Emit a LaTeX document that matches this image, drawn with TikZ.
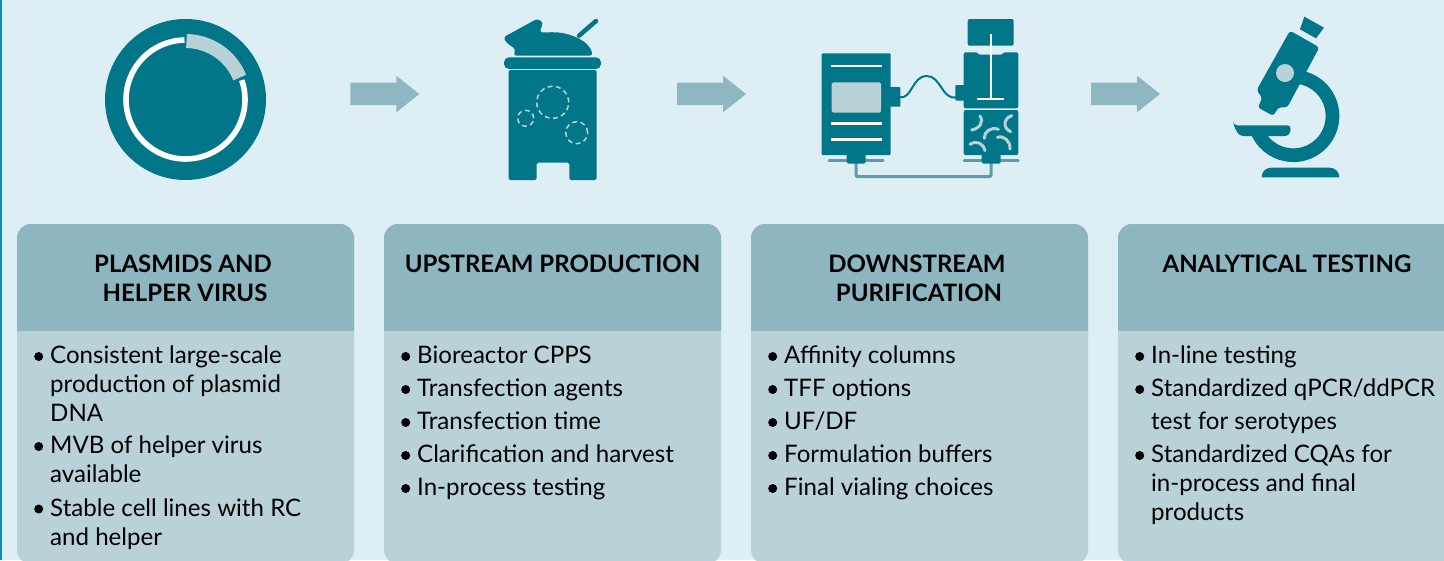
\documentclass[tikz,border=0pt]{standalone}
\usepackage{fontspec}
\setmainfont{Lato}
\definecolor{bgc}{HTML}{DDEEF5}
\definecolor{teal}{HTML}{017689}
\definecolor{head}{HTML}{8DB6C0}
\definecolor{bodyc}{HTML}{B8D2D8}
\definecolor{stripe}{HTML}{0090B8}
\definecolor{pipe}{HTML}{5C9BA9}
\definecolor{arrowc}{HTML}{8FB7C1}
\tikzset{
  cardtitle/.style={font=\fontsize{24}{29}\selectfont\bfseries,align=center,text=black,inner sep=0pt},
  itemtext/.style={font=\fontsize{24.1}{29}\selectfont,align=left,anchor=north west,inner sep=0pt,text=black,yshift=-1pt},
  bul/.style={circle,fill=black,inner sep=0pt,minimum size=9pt},
  whiteline/.style={draw=white,line width=2.4pt},
  curl/.style={draw=bodyc,line width=3pt,line cap=round},
  bubble/.style={draw=bodyc,line width=1.5pt,dash pattern=on 5pt off 3.4pt},
  flow/.style={fill=arrowc,draw=none}
}
\newcommand{\card}[2]{%
  \fill[bodyc,rounded corners=14pt] (#1,224) rectangle (#1+#2,564);
  \begin{scope}
    \clip (#1,224) rectangle (#1+#2,330);
    \fill[head,rounded corners=14pt] (#1,224) rectangle (#1+#2,360);
  \end{scope}}
\newcommand{\flowarrow}[1]{%
  \fill[flow] (#1,82.5) -- (#1+46,82.5) -- (#1+46,75.7) -- (#1+69,94) -- (#1+46,112.3) -- (#1+46,105) -- (#1,105) -- cycle;}
\newcommand{\mz}[2]{1210+#1/3,#2/3}
\newcommand{\rz}[2]{480+#1/3,#2/3}
\newcommand{\pz}[2]{800+#1/3,#2/3}
\begin{document}
\begin{tikzpicture}[x=1pt,y=-1pt]
\useasboundingbox (0,0) rectangle (1444,560);
\clip (0,0) rectangle (1444,560);
\fill[bgc] (0,0) rectangle (1444,560);
\fill[stripe] (0,0) rectangle (2,560);

% plasmid
\fill[teal] (185.5,99.5) circle[radius=80.5pt];
\draw[white,line width=5.6pt] (185.5,99.5) ++(91:59.5pt) arc[start angle=91,end angle=379,radius=59.5pt];
\draw[bodyc,line width=14pt] (185.5,99.5) ++(89:58.5pt) arc[start angle=89,end angle=22,radius=58.5pt];

\flowarrow{350.3}
\flowarrow{677}
\flowarrow{1091}

% bioreactor
\fill[teal,rounded corners=1.5pt] (508.7,70) -- (596.7,70) -- (596.7,180) -- (569.3,180) -- (569.3,162.7) -- (536.7,162.7) -- (536.7,180) -- (508.7,180) -- cycle;
\fill[teal,rounded corners=5pt] (504,57.3) rectangle (601,69);
\fill[teal,rounded corners=3pt] (\rz{70}{112}) -- (\rz{172}{56}) -- (\rz{190}{68}) -- (\rz{178}{97}) -- (\rz{205}{97}) .. controls (\rz{270}{95}) and (\rz{330}{125}) .. (\rz{338}{167}) -- (\rz{100}{167}) -- (\rz{107}{148}) -- (\rz{78}{127}) -- cycle;
\draw[teal,line width=4.5pt,line cap=round] (579,35.7) -- (596,21);
\draw[bubble] (552.7,102.3) circle[radius=16pt];
\draw[bubble] (525.7,118.3) circle[radius=8pt];
\draw[bubble] (576.7,132.7) circle[radius=11pt];

% purification
\fill[teal,rounded corners=1pt] (821.7,53.3) rectangle (890.7,155);
\draw[whiteline] (831,65.7) -- (881.7,65.7);
\draw[whiteline] (831,123.3) -- (881.7,123.3);
\draw[whiteline] (831,139.3) -- (881.7,139.3);
\fill[bodyc,rounded corners=1.5pt] (831.7,82.3) rectangle (881,112.7);
\fill[teal,rounded corners=1pt] (889,87) rectangle (900.3,106.7);
\fill[teal,rounded corners=1pt] (955.3,85) rectangle (965,100.7);
\draw[teal,line width=2pt] (899,97.3) .. controls (912,100) and (912,76) .. (926.7,76) .. controls (941,76) and (942,100) .. (956,97.3);
\fill[teal,rounded corners=2pt] (963.7,52.3) -- (977.7,52.3) -- (977.7,54.5) -- (1003.3,54.5) -- (1003.3,52.3) -- (1018.3,52.3) -- (1018.3,108.3) -- (963.7,108.3) -- cycle;
\fill[teal,rounded corners=2pt] (967.7,19) rectangle (1013.7,45.7);
\draw[white,line width=2pt] (990.7,34) -- (990.7,99);
\draw[white,line width=2pt] (977.3,99) -- (1004,99);
\fill[teal,rounded corners=2pt] (963.7,110) rectangle (1018.3,155);
\draw[curl] (\pz{540}{348}) .. controls (\pz{552}{365}) and (\pz{540}{385}) .. (\pz{515}{390});
\draw[curl] (\pz{635}{347}) .. controls (\pz{610}{355}) and (\pz{608}{385}) .. (\pz{632}{395});
\draw[curl] (\pz{595}{388}) .. controls (\pz{572}{380}) and (\pz{552}{395}) .. (\pz{553}{415});
\draw[curl] (\pz{510}{433}) .. controls (\pz{530}{420}) and (\pz{550}{430}) .. (\pz{555}{452});
\draw[curl] (\pz{592}{412}) .. controls (\pz{612}{405}) and (\pz{632}{425}) .. (\pz{630}{447});
\draw[pipe,line width=3pt,rounded corners=2pt] (856,160) -- (856,176.7) -- (991,176.7) -- (991,160);
\draw[pipe,line width=3pt,line cap=round] (829,160.3) -- (883,160.3);
\draw[pipe,line width=3pt,line cap=round] (964,160.3) -- (1018,160.3);
\fill[teal,rounded corners=1.5pt] (846.7,153) rectangle (865.7,163.7);
\fill[teal,rounded corners=1.5pt] (981.7,153) rectangle (1000.7,163.7);

% microscope
\draw[teal,line width=13.7pt] (1293.3,116) ++(80:39.2pt) arc[start angle=80,end angle=-160,radius=39.2pt];
\fill[teal,rounded corners=3pt] (\mz{240}{92}) -- (\mz{328}{142}) -- (\mz{232}{322}) -- (\mz{205}{322}) -- (\mz{190}{348}) -- (\mz{143}{322}) -- (\mz{157}{295}) -- (\mz{140}{270}) -- cycle;
\fill[teal] (\mz{283}{50}) -- (\mz{342}{83}) -- (\mz{318}{115}) -- (\mz{270}{88}) -- cycle;
\fill[bodyc] (\mz{225}{219}) circle[radius=9pt];
\fill[teal,rounded corners=4pt] (\mz{70}{376}) -- (\mz{70}{376}) -- (\mz{244}{376}) -- (\mz{238}{408}) -- (\mz{88}{408}) -- cycle;
\fill[teal] (\mz{155}{532}) .. controls (\mz{155}{512}) and (\mz{170}{503}) .. (\mz{185}{503}) -- (\mz{358}{503}) .. controls (\mz{375}{503}) and (\mz{388}{515}) .. (\mz{388}{532}) -- cycle;

% cards
\card{17}{337}
\card{384}{337}
\card{751}{337}
\card{1118}{340}

\node[cardtitle] (t1) at (183,278) {PLASMIDS AND\\\hspace*{4pt}HELPER VIRUS};
\node[cardtitle] (t2) at (552.5,264) {UPSTREAM PRODUCTION};
\node[cardtitle] (t3) at (917,278) {DOWNSTREAM\\\hspace*{4pt}PURIFICATION};
\node[cardtitle] (t4) at (1287,264) {ANALYTICAL TESTING};

% card 1
\node[bul] (a1) at (38.7,356.5) {};
\node[itemtext] (a1t) at (50,345) {Consistent large-scale\\production of plasmid\\DNA};
\node[bul] (a2) at (38.7,446.5) {};
\node[itemtext] (a2t) at (50,435) {MVB of helper virus\\available};
\node[bul] (a3) at (38.7,509) {};
\node[itemtext] (a3t) at (50,498) {Stable cell lines with RC\\and helper};
% card 2
\node[bul] (b1) at (405.7,356.5) {};
\node[itemtext] (b1t) at (417,345) {Bioreactor CPPS};
\node[bul] (b2) at (405.7,389.5) {};
\node[itemtext] (b2t) at (417,378) {Transfection agents};
\node[bul] (b3) at (405.7,422.5) {};
\node[itemtext] (b3t) at (417,411) {Transfection time};
\node[bul] (b4) at (405.7,455.5) {};
\node[itemtext] (b4t) at (417,444) {Clarification and harvest};
\node[bul] (b5) at (405.7,488.5) {};
\node[itemtext] (b5t) at (417,477) {In-process testing};
% card 3
\node[bul] (c1) at (772.7,356.5) {};
\node[itemtext] (c1t) at (784,345) {Affinity columns};
\node[bul] (c2) at (772.7,389.5) {};
\node[itemtext] (c2t) at (784,378) {TFF options};
\node[bul] (c3) at (772.7,422.5) {};
\node[itemtext] (c3t) at (784,411) {UF/DF};
\node[bul] (c4) at (772.7,455.5) {};
\node[itemtext] (c4t) at (784,444) {Formulation buffers};
\node[bul] (c5) at (772.7,488.5) {};
\node[itemtext] (c5t) at (784,477) {Final vialing choices};
% card 4
\node[bul] (d1) at (1139.7,356.5) {};
\node[itemtext] (d1t) at (1151,345) {In-line testing};
\node[bul] (d2) at (1139.7,389.5) {};
\node[itemtext] (d2t) at (1151,378) {Standardized qPCR/ddPCR\\[4pt]test for serotypes};
\node[bul] (d3) at (1139.7,455.5) {};
\node[itemtext] (d3t) at (1151,444) {Standardized CQAs for\\in-process and final\\products};
\end{tikzpicture}
\end{document}
